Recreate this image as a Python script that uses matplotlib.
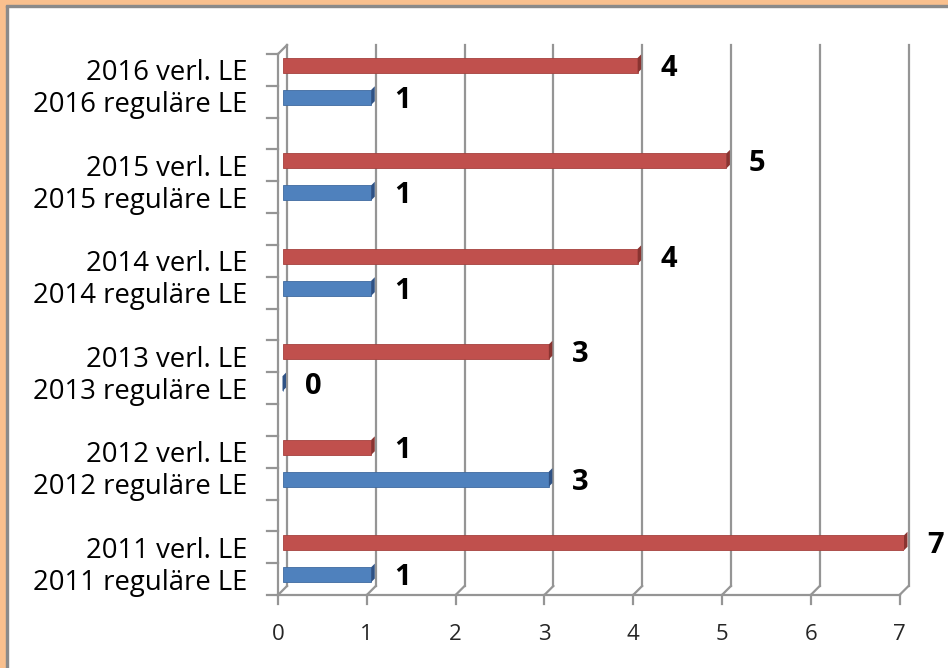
import matplotlib
matplotlib.use('Agg')
import matplotlib.pyplot as plt
from matplotlib.lines import Line2D
from matplotlib.patches import Polygon, Rectangle
from matplotlib.transforms import IdentityTransform

plt.rcParams['font.family'] = ['Open Sans', 'DejaVu Sans']

# Daten: Anzahl LE pro Jahr
jahre = ['2011', '2012', '2013', '2014', '2015', '2016']
regulaer = [1, 3, 0, 1, 1, 1]
verlaengert = [7, 1, 3, 4, 5, 4]
x_ticks = [0, 1, 2, 3, 4, 5, 6, 7]

W, H = 948, 668
fig = plt.figure(figsize=(W / 100, H / 100), dpi=100)

# Zeichenflaeche (mittlere Tiefe des 3D-Diagramms)
left, right, top, bottom = 282.5, 904, 49.5, 590.5
ax = fig.add_axes([left / W, (H - bottom) / H, (right - left) / W, (bottom - top) / H])
n_slots = 3 * len(jahre) - 1
ax.set_xlim(0, 7)
ax.set_ylim(0, n_slots)
ax.axis('off')
ax.patch.set_visible(False)

# Rahmen oben/links
orange, rahmen_grau = '#f9c08e', '#8a8a8a'
fig.add_artist(Rectangle((0, 0), 6 / W, 1, transform=fig.transFigure, color=orange, zorder=5))
fig.add_artist(Rectangle((6 / W, 0), 2 / W, 1 - 5 / H, transform=fig.transFigure, color=rahmen_grau, zorder=5))
fig.add_artist(Rectangle((0, 1 - 5 / H), 1, 5 / H, transform=fig.transFigure, color=orange, zorder=5))
fig.add_artist(Rectangle((6 / W, 1 - 7 / H), 1, 2 / H, transform=fig.transFigure, color=rahmen_grau, zorder=5))

HALF = 4.5
FRONT = (-HALF, -HALF)
BACK = (HALF, HALF)


def disp(x, y, off=(0, 0), extra=(0, 0)):
    p = ax.transData.transform((x, y))
    return p[0] + off[0] + extra[0], p[1] + off[1] + extra[1]


def seg(p, q, z=-1, color='#959595', lw=1.6):
    fig.add_artist(Line2D([p[0], q[0]], [p[1], q[1]], transform=IdentityTransform(),
                          color=color, lw=lw, zorder=z, solid_capstyle='projecting'))


# Gitterlinien an der Rueckwand + Boden
for v in x_ticks:
    seg(disp(v, 0, BACK), disp(v, n_slots, BACK))
    seg(disp(v, 0, BACK), disp(v, 0, FRONT))
    seg(disp(v, 0, FRONT), disp(v, 0, FRONT, (0, -9)))

# vordere Achsen
seg(disp(0, 0, FRONT), disp(7, 0, FRONT))
seg(disp(0, 0, FRONT), disp(0, n_slots, FRONT))
seg(disp(0, n_slots, FRONT), disp(0, n_slots, BACK))
for k in range(n_slots + 1):
    seg(disp(0, k, FRONT), disp(0, k, FRONT, (-11, 0)))

# Balken
pos_reg = [3 * i + 0.5 for i in range(len(jahre))]
pos_verl = [3 * i + 1.5 for i in range(len(jahre))]
bar_h = 0.47
tiefe = 3.5

serien = [
    (pos_reg, regulaer, '#4f81bd', '#2f5285', '#3f6aa0'),
    (pos_verl, verlaengert, '#c0504d', '#8a3431', '#a5413e'),
]
for pos, werte, farbe, dunkel, kante in serien:
    ax.barh(pos, werte, height=bar_h, color=farbe, edgecolor=kante, linewidth=0.6, zorder=3)
    for p, w in zip(pos, werte):
        cap = [disp(w, p - bar_h / 2), disp(w, p + bar_h / 2),
               disp(w, p + bar_h / 2, (tiefe, tiefe)), disp(w, p - bar_h / 2, (tiefe, tiefe))]
        fig.add_artist(Polygon(cap, closed=True, transform=IdentityTransform(),
                               facecolor=dunkel, edgecolor='none', zorder=2))
        ax.annotate(str(w), (w, p), xytext=(31, -3), textcoords='offset pixels',
                    ha='center', va='center', fontsize=21, fontweight='bold', color='black')

# Kategorienbeschriftung
for i, jahr in enumerate(jahre):
    for p, text in ((pos_reg[i], f'{jahr} reguläre LE'), (pos_verl[i], f'{jahr} verl. LE')):
        ax.annotate(text, (0, p), xytext=(-35.5, -4.5), textcoords='offset pixels',
                    ha='right', va='center_baseline', fontsize=19.8, color='black')

# x-Achsenbeschriftung
for v in x_ticks:
    ax.annotate(str(v), (v, 0), xytext=(-4.5, -44.5), textcoords='offset pixels',
                ha='center', va='center', fontsize=16, color='#262626')

fig.savefig('out.png', dpi=100, facecolor='white')
